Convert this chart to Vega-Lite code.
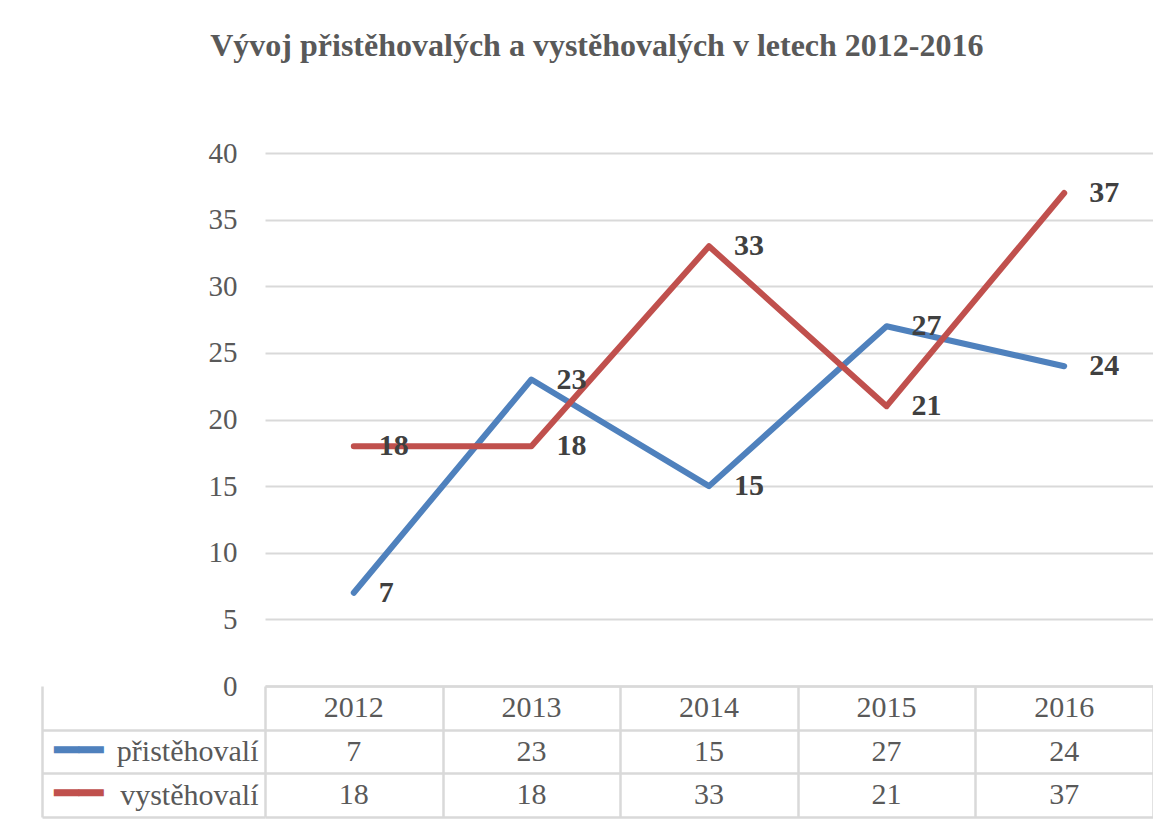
{
  "$schema": "https://vega.github.io/schema/vega-lite/v6.json",
  "background": "white",
  "padding": {"left": 40, "right": 0, "top": 30, "bottom": 0},
  "title": {
    "text": "Vývoj přistěhovalých a vystěhovalých v letech 2012-2016",
    "font": "Liberation Serif",
    "fontSize": 32,
    "fontWeight": "bold",
    "color": "#595959",
    "anchor": "middle",
    "frame": "bounds",
    "offset": 76
  },
  "data": {
    "values": [
      {"rok": "2012", "rada": "přistěhovalí", "hodnota": 7},
      {"rok": "2013", "rada": "přistěhovalí", "hodnota": 23},
      {"rok": "2014", "rada": "přistěhovalí", "hodnota": 15},
      {"rok": "2015", "rada": "přistěhovalí", "hodnota": 27},
      {"rok": "2016", "rada": "přistěhovalí", "hodnota": 24},
      {"rok": "2012", "rada": "vystěhovalí", "hodnota": 18},
      {"rok": "2013", "rada": "vystěhovalí", "hodnota": 18},
      {"rok": "2014", "rada": "vystěhovalí", "hodnota": 33},
      {"rok": "2015", "rada": "vystěhovalí", "hodnota": 21},
      {"rok": "2016", "rada": "vystěhovalí", "hodnota": 37}
    ]
  },
  "bounds": "flush",
  "spacing": 0,
  "vconcat": [
    {
      "width": 888,
      "height": 533,
      "layer": [
        {
          "mark": {"type": "line", "strokeWidth": 6, "strokeCap": "round", "strokeJoin": "round"},
          "encoding": {
            "x": {"field": "rok", "type": "ordinal", "axis": null, "scale": {"type": "point", "padding": 0.5}},
            "y": {
              "field": "hodnota",
              "type": "quantitative",
              "scale": {"domain": [0, 40]},
              "axis": {
                "values": [0, 5, 10, 15, 20, 25, 30, 35, 40],
                "title": null,
                "domain": false,
                "ticks": false,
                "grid": true,
                "gridColor": "#d9d9d9",
                "gridWidth": 2,
                "labelPadding": 28,
                "labelFont": "Liberation Serif",
                "labelFontSize": 29,
                "labelColor": "#595959"
              }
            },
            "color": {
              "field": "rada",
              "type": "nominal",
              "scale": {"domain": ["přistěhovalí", "vystěhovalí"], "range": ["#4F81BD", "#C0504D"]},
              "legend": null
            }
          }
        },
        {
          "mark": {"type": "text", "align": "left", "baseline": "middle", "dx": 25, "fontSize": 30, "fontWeight": "bold", "font": "Liberation Serif", "color": "#404040"},
          "encoding": {
            "x": {"field": "rok", "type": "ordinal"},
            "y": {"field": "hodnota", "type": "quantitative"},
            "text": {"field": "hodnota", "type": "quantitative"}
          }
        }
      ]
    },
    {
      "width": 888,
      "height": 131,
      "resolve": {"axis": {"y": "independent"}},
      "layer": [
        {
          "mark": {"type": "text", "fontSize": 30, "color": "#595959", "font": "Liberation Serif", "baseline": "middle"},
          "encoding": {
            "x": {
              "field": "rok",
              "type": "ordinal",
              "scale": {"type": "band", "paddingInner": 0, "paddingOuter": 0},
              "axis": {"grid": true, "tickBand": "extent", "labels": false, "ticks": false, "domain": false, "title": null, "gridColor": "#d9d9d9", "gridWidth": 2.5}
            },
            "y": {
              "field": "rada",
              "type": "nominal",
              "scale": {"domain": ["rok", "přistěhovalí", "vystěhovalí"], "paddingInner": 0, "paddingOuter": 0},
              "axis": {
                "orient": "left",
                "title": null,
                "domain": false,
                "grid": true,
                "gridColor": "#d9d9d9",
                "gridWidth": 2.5,
                "tickBand": "extent",
                "ticks": true,
                "tickSize": 223,
                "tickWidth": 2.5,
                "tickColor": {"condition": {"test": "datum.extra || datum.value == null", "value": "transparent"}, "value": "#d9d9d9"},
                "labelPadding": -216,
                "labelExpr": "datum.value === 'rok' ? '' : datum.value",
                "labelFont": "Liberation Serif",
                "labelFontSize": 30,
                "labelColor": "#595959"
              }
            },
            "text": {"field": "hodnota", "type": "quantitative"}
          }
        },
        {
          "transform": [{"filter": "datum.rada === 'přistěhovalí'"}],
          "mark": {"type": "text", "fontSize": 30, "color": "#595959", "font": "Liberation Serif", "baseline": "middle"},
          "encoding": {
            "x": {"field": "rok", "type": "ordinal"},
            "y": {
              "datum": "rok",
              "type": "nominal",
              "axis": {
                "orient": "left",
                "offset": 223,
                "title": null,
                "domain": true,
                "domainColor": "#d9d9d9",
                "domainWidth": 2.5,
                "ticks": false,
                "grid": false,
                "labelPadding": -61,
                "labelExpr": "datum.value === 'rok' ? '' : '━━'",
                "labelFont": "DejaVu Sans",
                "labelFontSize": 41,
                "labelColor": {"condition": {"test": "datum.value === 'přistěhovalí'", "value": "#4F81BD"}, "value": "#C0504D"}
              }
            },
            "text": {"field": "rok", "type": "nominal"}
          }
        }
      ]
    }
  ],
  "config": {"view": {"stroke": null}}
}
